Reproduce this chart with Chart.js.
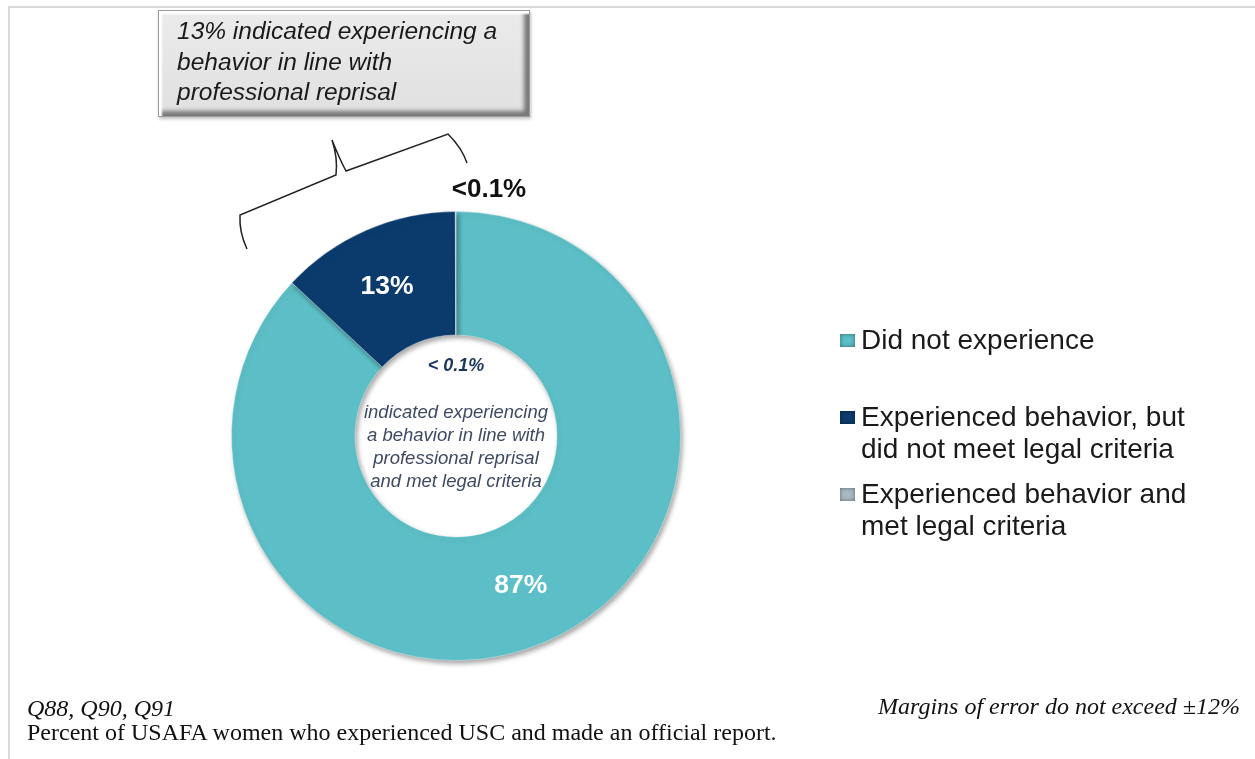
<!DOCTYPE html>
<html>
<head>
<meta charset="utf-8">
<script src="https://cdn.jsdelivr.net/npm/chart.js@4.4.1/dist/chart.umd.min.js"></script>
<style>
  body { margin: 0; background: #fff; font-family: "Liberation Sans", Arial, sans-serif; }
  #wrap { position: relative; width: 1255px; height: 759px; overflow: hidden; }
  #frame { position: absolute; left: 8px; top: 6px; right: -4px; bottom: -4px;
           border-top: 2px solid #dadada; border-left: 2px solid #dadada; }
  #chart { position: absolute; left: 0; top: 0; }
  .callout { position: absolute; left: 158px; top: 10px; width: 372px; height: 107px; box-sizing: border-box;
             background: linear-gradient(#ebebeb, #e0e0e0); border: 1px solid #9a9a9a;
             box-shadow: inset 3px 3px 2px #ffffff, inset -5px -5px 4px #777, 1px 2px 3px rgba(0,0,0,0.25);
             padding: 5px 0 0 18px; font-style: italic; font-size: 24.5px; line-height: 30.5px; color: #1a1a1a; white-space: nowrap; }
  .center { position: absolute; left: 336px; width: 240px; text-align: center; font-style: italic; }
  .center.pct { top: 355px; font-weight: bold; font-size: 18px; color: #1b365d; }
  .center.note { top: 400px; font-size: 18.5px; line-height: 23px; color: #3e4a63; }
  .legend-item { position: absolute; left: 840px; font-size: 28px; line-height: 32px; color: #1a1a1a; }
  .legend-item .box { position: absolute; left: 0; top: 10px; width: 15px; height: 13px; }
  .legend-item .txt { position: absolute; left: 21px; top: 0; white-space: nowrap; }
  .foot { position: absolute; font-family: "Liberation Serif", "Times New Roman", serif; font-size: 24px; color: #111; white-space: nowrap; }
</style>
</head>
<body>
<div id="wrap">
  <div id="frame"></div>
  <canvas id="chart" width="1255" height="759"></canvas>
  <div class="callout" id="callout"></div>
  <div class="center pct" id="centerPct"></div>
  <div class="center note" id="centerNote"></div>
  <div id="legend"></div>
  <div class="foot" style="left:27px; top:695px; font-style:italic;">Q88, Q90, Q91</div>
  <div class="foot" style="left:27px; top:719px;">Percent of USAFA women who experienced USC and made an official report.</div>
  <div class="foot" style="right:15px; top:693px; font-style:italic;">Margins of error do not exceed ±12%</div>
</div>
<script>
// chart data
const categories = [
    ['Did not experience'],
    ['Experienced behavior, but', 'did not meet legal criteria'],
    ['Experienced behavior and', 'met legal criteria']
];
const values = [87, 13, 0.05];
const valueLabels = ['87%', '13%', '<0.1%'];
const sliceColors = ['#5cbec6', '#0b3b6d', '#a9bac5'];

const calloutLines = ['13% indicated experiencing a', 'behavior in line with', 'professional reprisal'];
const centerPct = '< 0.1%';
const centerLines = ['indicated experiencing', 'a behavior in line with', 'professional reprisal', 'and met legal criteria'];

// html annotations
document.getElementById('callout').innerHTML = calloutLines.join('<br>');
document.getElementById('centerPct').textContent = centerPct;
document.getElementById('centerNote').innerHTML = centerLines.join('<br>');

const legendEl = document.getElementById('legend');
categories.forEach((lines, i) => {
    const item = document.createElement('div');
    item.className = 'legend-item';
    item.style.top = (324 + i * 77) + 'px';
    item.innerHTML = '<span class="box" style="background:' + sliceColors[i] +
        ';box-shadow: inset 0 0 4px rgba(0,0,0,0.45)"></span><span class="txt">' + lines.join('<br>') + '</span>';
    legendEl.appendChild(item);
});

// shadow under the ring
const ringShadow = {
    id: 'ringShadow',
    beforeDatasetsDraw(chart) {
        const ctx = chart.ctx;
        ctx.save();
        ctx.shadowColor = 'rgba(0,0,0,0.35)';
        ctx.shadowBlur = 5;
        ctx.shadowOffsetX = 2;
        ctx.shadowOffsetY = 3;
    },
    afterDatasetsDraw(chart) {
        chart.ctx.restore();
    }
};

// slice labels + bracket
const sliceLabels = {
    id: 'sliceLabels',
    afterDraw(chart) {
        const ctx = chart.ctx;
        const arcs = chart.getDatasetMeta(0).data;
        ctx.save();
        ctx.textAlign = 'center';
        ctx.textBaseline = 'middle';
        ctx.font = 'bold 26.5px "Liberation Sans", Arial, sans-serif';
        ctx.fillStyle = '#ffffff';
        for (let i = 0; i < 2; i++) {
            const p = arcs[i].tooltipPosition();
            ctx.fillText(valueLabels[i], p.x - (i === 1 ? 4 : 0), p.y);
        }
        // tiny slice label sits outside, above the top of the ring
        const a = arcs[2];
        ctx.fillStyle = '#111';
        ctx.font = 'bold 26px "Liberation Sans", Arial, sans-serif';
        ctx.fillText(valueLabels[2], a.x + 33, a.y - a.outerRadius - 22);

        // curly bracket over the 13% slice
        ctx.strokeStyle = '#222';
        ctx.lineWidth = 1.5;
        ctx.beginPath();
        ctx.moveTo(247, 249);
        ctx.quadraticCurveTo(239, 232, 240, 215);
        ctx.lineTo(336, 175);
        ctx.quadraticCurveTo(338, 158, 332, 140);
        ctx.quadraticCurveTo(340, 160, 346, 171);
        ctx.lineTo(448, 134);
        ctx.quadraticCurveTo(462, 148, 467, 163);
        ctx.stroke();
        ctx.restore();
    }
};

new Chart(document.getElementById('chart'), {
    type: 'doughnut',
    data: {
        labels: categories,
        datasets: [{
            data: values,
            backgroundColor: sliceColors,
            borderColor: 'rgba(255,255,255,0.35)',
            borderWidth: 1,
            hoverOffset: 0
        }]
    },
    options: {
        responsive: false,
        animation: false,
        cutout: '45%',
        layout: { padding: { left: 231, right: 574, top: 211, bottom: 98 } },
        plugins: {
            legend: { display: false },
            tooltip: { enabled: false }
        }
    },
    plugins: [ringShadow, sliceLabels]
});
</script>
</body>
</html>
